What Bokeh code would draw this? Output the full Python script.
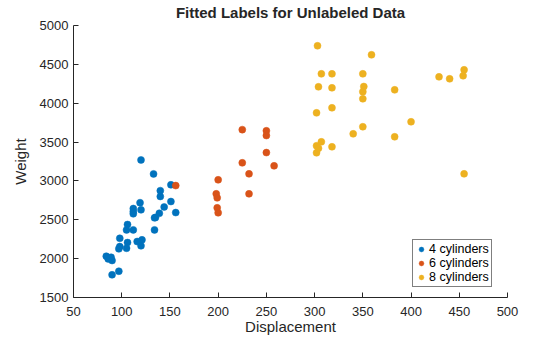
from bokeh.plotting import figure
from bokeh.models import Range1d, FixedTicker, Legend, LegendItem
from bokeh.embed import file_html
from bokeh.resources import INLINE

disp4 = [120, 133, 151, 140, 140, 119, 151, 144, 112, 120, 112, 156, 139, 135, 134, 112,
         106, 105, 112, 134, 98, 106, 98, 116, 121, 120, 105, 97, 84, 89, 86, 90, 97, 90]
wt4 = [3270, 3090, 2950, 2875, 2800, 2720, 2735, 2665, 2645, 2628, 2606, 2593, 2584, 2530, 2525, 2577,
       2439, 2370, 2370, 2370, 2262, 2207, 2155, 2220, 2242, 2165, 2134, 2126, 2031, 2018, 1997, 1976, 1838, 1792]

disp6 = [225, 250, 250, 250, 225, 258, 232, 200, 198, 199, 232, 199, 200, 156]
wt6 = [3660, 3645, 3584, 3365, 3233, 3194, 3091, 3014, 2834, 2782, 2834, 2654, 2590, 2940]

disp8 = [303, 359, 307, 318, 350, 429, 440, 455, 454, 304, 318, 351, 350, 350, 383, 318,
         302, 400, 350, 340, 383, 307, 302, 318, 302, 304, 455]
wt8 = [4739, 4623, 4378, 4378, 4378, 4339, 4314, 4430, 4353, 4211, 4198, 4215, 4147, 4057, 4172, 3941,
       3876, 3761, 3697, 3606, 3568, 3503, 3452, 3439, 3362, 3420, 3091]

labels = ["4 cylinders", "6 cylinders", "8 cylinders"]
colors = ["#0072BD", "#D95319", "#EDB120"]
xticks = [50, 100, 150, 200, 250, 300, 350, 400, 450, 500]
yticks = [1500, 2000, 2500, 3000, 3500, 4000, 4500, 5000]

p = figure(width=560, height=337, output_backend="svg", toolbar_location=None,
           x_range=Range1d(50, 500), y_range=Range1d(1500, 5000),
           min_border_left=73, min_border_right=53, min_border_top=25, min_border_bottom=40,
           title="Fitted Labels for Unlabeled Data")
p.outline_line_color = None
p.grid.visible = False
p.background_fill_color = "white"
p.border_fill_color = "white"

p.title.align = "center"
p.title.vertical_align = "top"
p.title.text_font = "Liberation Sans"
p.title.text_font_size = "15px"
p.title.text_font_style = "bold"
p.title.text_color = "#262626"
p.title.offset = 0
p.title.standoff = 5

for ax in (p.xaxis[0], p.yaxis[0]):
    ax.major_tick_in = 5
    ax.major_tick_out = 0
    ax.minor_tick_line_color = None
    ax.axis_line_color = "#262626"
    ax.major_tick_line_color = "#262626"
    ax.major_label_text_font = "Liberation Sans"
    ax.major_label_text_font_size = "13px"
    ax.major_label_text_color = "#262626"
    ax.axis_label_text_font = "Liberation Sans"
    ax.axis_label_text_font_size = "15px"
    ax.axis_label_text_font_style = "normal"
    ax.axis_label_text_color = "#262626"

p.xaxis.ticker = FixedTicker(ticks=xticks)
p.yaxis.ticker = FixedTicker(ticks=yticks)
p.xaxis.axis_label = "Displacement"
p.yaxis.axis_label = "Weight"
p.xaxis.major_label_standoff = 9
p.yaxis.major_label_standoff = 5
p.xaxis.axis_label_standoff = -1
p.yaxis.axis_label_standoff = 8

items = []
for xs, ys, lab, c in zip([disp4, disp6, disp8], [wt4, wt6, wt8], labels, colors):
    r = p.scatter(xs, ys, size=7, fill_color=c, line_color=c, line_width=0.5)
    items.append(LegendItem(label=lab, renderers=[r]))

leg = Legend(items=items, location=(339, 10))
leg.label_text_font = "Liberation Sans"
leg.label_text_font_size = "12.5px"
leg.label_text_color = "#000000"
leg.label_height = 12
leg.glyph_height = 12
leg.glyph_width = 12
leg.label_standoff = 2
leg.spacing = 0
leg.padding = 2
leg.margin = 0
leg.border_line_color = "#000000"
leg.border_line_width = 1
leg.background_fill_alpha = 1
p.add_layout(leg, "center")

open("out.html", "w").write(file_html(p, INLINE))
